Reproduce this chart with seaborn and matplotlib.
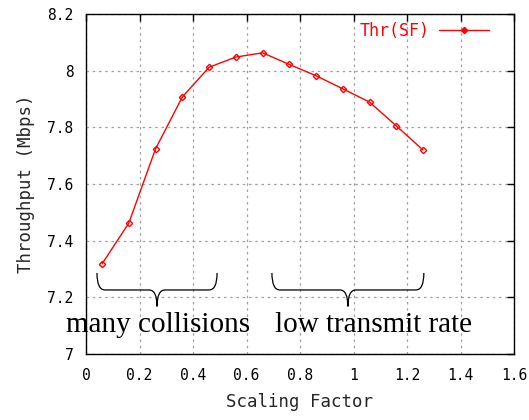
import matplotlib
matplotlib.use("Agg")
import matplotlib.pyplot as plt
import seaborn as sns
import pandas as pd
from matplotlib.path import Path
from matplotlib.patches import PathPatch

scaling_factor = [0.06, 0.16, 0.26, 0.36, 0.46, 0.56, 0.66, 0.76, 0.86, 0.96, 1.06, 1.16, 1.26]
throughput = [7.318, 7.462, 7.724, 7.907, 8.012, 8.048, 8.063, 8.022, 7.982, 7.936, 7.889, 7.805, 7.720]
x_ticks = [0, 0.2, 0.4, 0.6, 0.8, 1, 1.2, 1.4, 1.6]
y_ticks = [7, 7.2, 7.4, 7.6, 7.8, 8, 8.2]
x_tick_labels = ["0", "0.2", "0.4", "0.6", "0.8", "1", "1.2", "1.4", "1.6"]
y_tick_labels = ["7", "7.2", "7.4", "7.6", "7.8", "8", "8.2"]
series_name = "Thr(SF)"
# label, brace start, brace end, text centre
annotations = [("many collisions", 0.041, 0.49, 0.271), ("low transmit rate", 0.695, 1.263, 1.073)]

sns.set_style("white")
plt.rcParams["font.family"] = ["DejaVu Sans Mono"]

df = pd.DataFrame({"Scaling Factor": scaling_factor, "Throughput": throughput, "series": series_name})

fig = plt.figure(figsize=(5.29, 4.20), dpi=100)
ax = fig.add_axes([86 / 529, 1 - 354 / 420, (514 - 86) / 529, (354 - 14) / 420])

sns.lineplot(data=df, x="Scaling Factor", y="Throughput", hue="series", palette=["#ff0000"],
             marker="D", markersize=3.2, markerfacecolor="none", markeredgecolor="#ff0000",
             markeredgewidth=1.0, linewidth=1.0, ax=ax)

ax.set_xlim(0, 1.6)
ax.set_ylim(7, 8.2)
ax.set_xticks(x_ticks)
ax.set_xticklabels(x_tick_labels)
ax.set_yticks(y_ticks)
ax.set_yticklabels(y_tick_labels)
ax.tick_params(direction="in", length=5, width=1, top=True, right=True, labelsize=10.5, colors="black")
ax.tick_params(axis="x", pad=10)
ax.tick_params(axis="y", pad=9)
ax.grid(True, color="#a0a0a0", linestyle=(0, (2, 3)), linewidth=0.9)
for s in ax.spines.values():
    s.set_color("black")
    s.set_linewidth(1.0)
ax.set_xlabel("Scaling Factor", fontsize=12.5, labelpad=7)
ax.set_ylabel("Throughput (Mbps)", fontsize=12.5, labelpad=9)

leg = ax.legend(loc="upper right", markerfirst=False, frameon=False, fontsize=12,
                handlelength=3.0, handletextpad=0.6, borderaxespad=0.3, bbox_to_anchor=(0.97, 1.01))
for t in leg.get_texts():
    t.set_color("#ff0000")
for h in leg.legend_handles:
    h.set_markerfacecolor("#ff0000")

def brace(x0, x1, ytop, ymid, ytip):
    xc = (x0 + x1) / 2
    r = 0.03
    verts = [(x0, ytop), (x0, ymid), (x0 + r, ymid),
             (xc - r, ymid), (xc, ymid), (xc, ytip),
             (xc, ymid), (xc + r, ymid),
             (x1 - r, ymid), (x1, ymid), (x1, ytop)]
    codes = [Path.MOVETO, Path.CURVE3, Path.CURVE3,
             Path.LINETO, Path.CURVE3, Path.CURVE3,
             Path.CURVE3, Path.CURVE3,
             Path.LINETO, Path.CURVE3, Path.CURVE3]
    ax.add_patch(PathPatch(Path(verts, codes), fill=False, edgecolor="black", linewidth=0.9))

for label, x0, x1, xt in annotations:
    brace(x0, x1, 7.286, 7.226, 7.168)
    ax.text(xt, 7.078, label, ha="center", va="baseline", fontsize=21,
            family=["Liberation Serif"], color="black")

fig.savefig("out.png", dpi=100)
